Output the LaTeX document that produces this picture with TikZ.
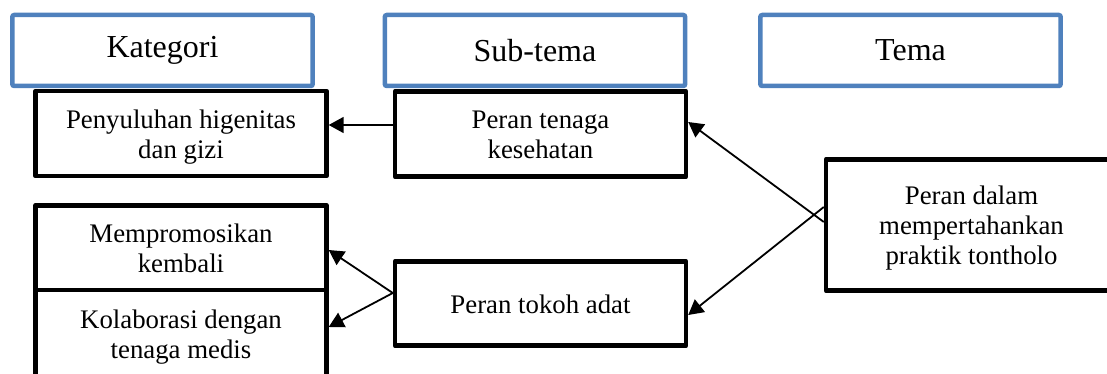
\documentclass[tikz,border=0pt]{standalone}
\usepackage{fontspec}
\setmainfont{Liberation Serif}
\usepackage{tikz}
\usetikzlibrary{arrows.meta}
\definecolor{headblue}{HTML}{4F81BD}
\newcommand{\headcolor}{headblue}
\newcommand{\thinline}{0.9pt}
\newcommand{\thickline}{2.3pt}
\tikzset{
  headbox/.style={draw=\headcolor, line width=2.25pt, rounded corners=1pt,
    minimum width=150.2pt, minimum height=35.5pt, font=\fontsize{16}{19}\selectfont},
  itembox/.style={draw, line width=\thickline, line join=round, align=center,
    minimum width=145.4pt, font=\fontsize{13.4}{15}\selectfont, text depth=2.7pt},
  oneline/.style={text height=12.2pt},
  twoline/.style={text height=27.2pt},
  threeline/.style={text height=42.2pt},
  link/.style={line width=\thinline, -{Triangle[length=7.5pt,width=8pt]}}
}

\begin{document}
\begin{tikzpicture}[x=0.5pt,y=-0.5pt]
\useasboundingbox (0,0) rectangle (1107,374);
%heads
\node[headbox] (kategori) at (162.5,50.5) {Kategori};
\node[headbox] (subtema) at (535,50.5) {Sub-tema};
\node[headbox] (tema) at (910.5,50.5) {Tema};
%kategori
\node[itembox, twoline, minimum height=42.5pt] (penyuluhan) at (181,133.5) {Penyuluhan higenitas\\dan gizi};
\node[itembox, twoline, minimum height=42.4pt] (promosi) at (181,247.6) {Mempromosikan\\kembali};
\node[itembox, twoline, minimum height=44pt] (kolaborasi) at (181,334) {Kolaborasi dengan\\tenaga medis};
%sub-tema
\node[itembox, twoline, minimum height=42.75pt] (tenaga) at (540.5,134) {Peran tenaga\\kesehatan};
\node[itembox, oneline, minimum height=42.25pt] (tokoh) at (540.5,303.5) {Peran tokoh adat};
%tema
\node[itembox, threeline, minimum height=65.75pt] (peran) at (971.5,225) {Peran dalam\\mempertahankan\\praktik tontholo};
%links
\draw[link] ([yshift=4.5pt]tenaga.west) -- ([yshift=4.25pt]penyuluhan.east);
\draw[link] ([yshift=1.5pt]peran.west) -- ([yshift=6pt]tenaga.east);
\draw[link] ([yshift=9pt]peran.west) -- ([yshift=-5.75pt]tokoh.east);
\draw[link] ([yshift=5.25pt]tokoh.west) -- ([yshift=-1.2pt]promosi.east);
\draw[link] ([yshift=5.25pt]tokoh.west) -- ([yshift=3.5pt]kolaborasi.east);
\end{tikzpicture}
\end{document}
